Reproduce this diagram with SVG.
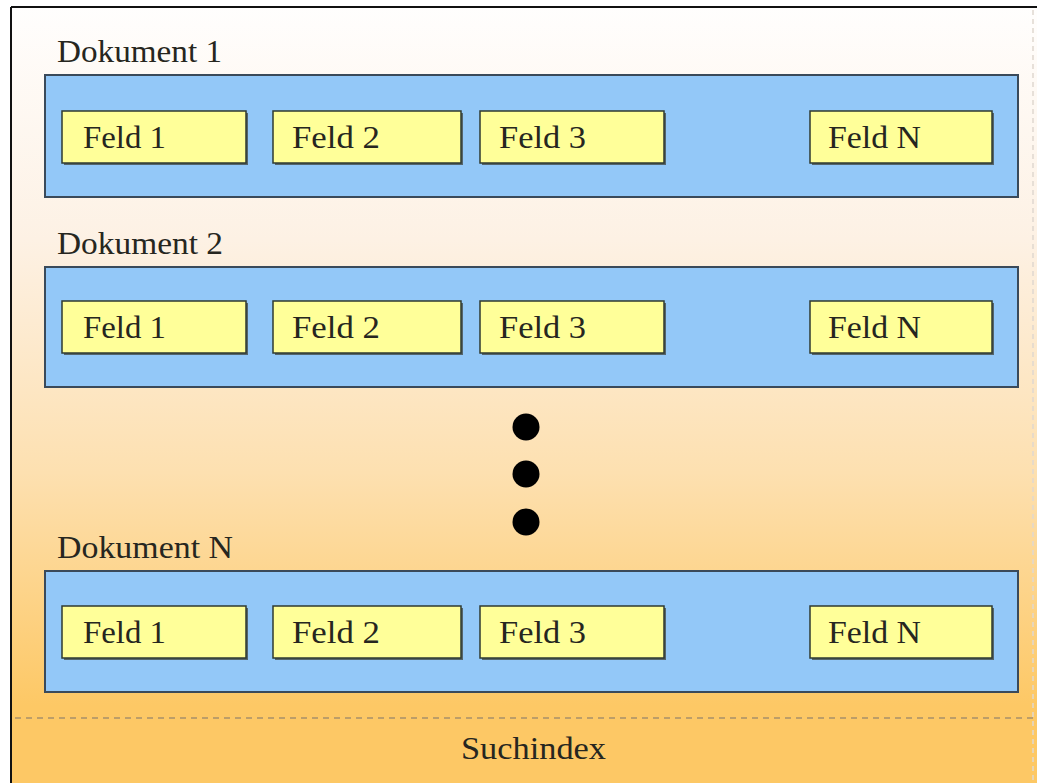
<svg xmlns="http://www.w3.org/2000/svg" width="1037" height="783" viewBox="0 0 1037 783">
<defs>
<linearGradient id="bg" x1="0" y1="0" x2="0" y2="1">
<stop offset="0" stop-color="#fffefd"/>
<stop offset="0.3" stop-color="#fdf1e4"/>
<stop offset="0.6" stop-color="#fde0b0"/>
<stop offset="0.9" stop-color="#fdc865"/>
<stop offset="1" stop-color="#fdc865"/>
</linearGradient>
</defs>
<style>
.doc{fill:#93c8f8;stroke:#3a4a5a;stroke-width:2}
.fld{fill:#ffff99;stroke:#2f3a30;stroke-width:1.5}
.sh{fill:#3a3a30;opacity:0.7}
.t{font-family:"Liberation Serif",serif;font-size:32px;fill:#262620}
.dot{fill:#000}
</style>
<rect x="0" y="0" width="1037" height="783" fill="#ffffff"/>
<rect x="11" y="7" width="1026" height="776" fill="url(#bg)"/>
<line x1="11" y1="7" x2="11" y2="783" stroke="#111" stroke-width="2"/>
<line x1="11" y1="7" x2="1037" y2="7" stroke="#111" stroke-width="2"/>
<line x1="1033" y1="10" x2="1033" y2="783" stroke="#e0d8d0" stroke-width="1.5" stroke-dasharray="5,4"/>
<line x1="15" y1="718" x2="1037" y2="718" stroke="#a8906a" stroke-width="1.5" stroke-dasharray="6,5"/>

<g id="doc1">
<text class="t" x="57" y="62" textLength="165" lengthAdjust="spacingAndGlyphs">Dokument 1</text>
<rect class="doc" x="45" y="75" width="973" height="122"/>
<g id="doc1-f1"><rect class="sh" x="64" y="113" width="184" height="52"/><rect class="fld" x="62" y="111" width="184" height="52"/><text class="t" x="83" y="148" textLength="83" lengthAdjust="spacingAndGlyphs">Feld 1</text></g>
<g id="doc1-f2"><rect class="sh" x="275" y="113" width="188" height="52"/><rect class="fld" x="273" y="111" width="188" height="52"/><text class="t" x="292" y="148" textLength="88" lengthAdjust="spacingAndGlyphs">Feld 2</text></g>
<g id="doc1-f3"><rect class="sh" x="482" y="113" width="184" height="52"/><rect class="fld" x="480" y="111" width="184" height="52"/><text class="t" x="499" y="148" textLength="87" lengthAdjust="spacingAndGlyphs">Feld 3</text></g>
<g id="doc1-fn"><rect class="sh" x="812" y="113" width="182" height="52"/><rect class="fld" x="810" y="111" width="182" height="52"/><text class="t" x="828" y="148" textLength="93" lengthAdjust="spacingAndGlyphs">Feld N</text></g>
</g>

<g id="doc2">
<text class="t" x="57" y="254" textLength="166" lengthAdjust="spacingAndGlyphs">Dokument 2</text>
<rect class="doc" x="45" y="267" width="973" height="120"/>
<g id="doc2-f1"><rect class="sh" x="64" y="303" width="184" height="52"/><rect class="fld" x="62" y="301" width="184" height="52"/><text class="t" x="83" y="338" textLength="83" lengthAdjust="spacingAndGlyphs">Feld 1</text></g>
<g id="doc2-f2"><rect class="sh" x="275" y="303" width="188" height="52"/><rect class="fld" x="273" y="301" width="188" height="52"/><text class="t" x="292" y="338" textLength="88" lengthAdjust="spacingAndGlyphs">Feld 2</text></g>
<g id="doc2-f3"><rect class="sh" x="482" y="303" width="184" height="52"/><rect class="fld" x="480" y="301" width="184" height="52"/><text class="t" x="499" y="338" textLength="87" lengthAdjust="spacingAndGlyphs">Feld 3</text></g>
<g id="doc2-fn"><rect class="sh" x="812" y="303" width="182" height="52"/><rect class="fld" x="810" y="301" width="182" height="52"/><text class="t" x="828" y="338" textLength="93" lengthAdjust="spacingAndGlyphs">Feld N</text></g>
</g>

<g id="ellipsis">
<circle class="dot" cx="526" cy="427" r="13.5"/>
<circle class="dot" cx="526" cy="474" r="13.5"/>
<circle class="dot" cx="526" cy="522" r="13.5"/>
</g>

<g id="docN">
<text class="t" x="57" y="558" textLength="176" lengthAdjust="spacingAndGlyphs">Dokument N</text>
<rect class="doc" x="45" y="571" width="973" height="121"/>
<g id="docN-f1"><rect class="sh" x="64" y="608" width="184" height="52"/><rect class="fld" x="62" y="606" width="184" height="52"/><text class="t" x="83" y="643" textLength="83" lengthAdjust="spacingAndGlyphs">Feld 1</text></g>
<g id="docN-f2"><rect class="sh" x="275" y="608" width="188" height="52"/><rect class="fld" x="273" y="606" width="188" height="52"/><text class="t" x="292" y="643" textLength="88" lengthAdjust="spacingAndGlyphs">Feld 2</text></g>
<g id="docN-f3"><rect class="sh" x="482" y="608" width="184" height="52"/><rect class="fld" x="480" y="606" width="184" height="52"/><text class="t" x="499" y="643" textLength="87" lengthAdjust="spacingAndGlyphs">Feld 3</text></g>
<g id="docN-fn"><rect class="sh" x="812" y="608" width="182" height="52"/><rect class="fld" x="810" y="606" width="182" height="52"/><text class="t" x="828" y="643" textLength="93" lengthAdjust="spacingAndGlyphs">Feld N</text></g>
</g>

<g id="suchindex">
<text class="t" x="461" y="759" textLength="145" lengthAdjust="spacingAndGlyphs">Suchindex</text>
</g>
<g id="connectors"/>
</svg>
